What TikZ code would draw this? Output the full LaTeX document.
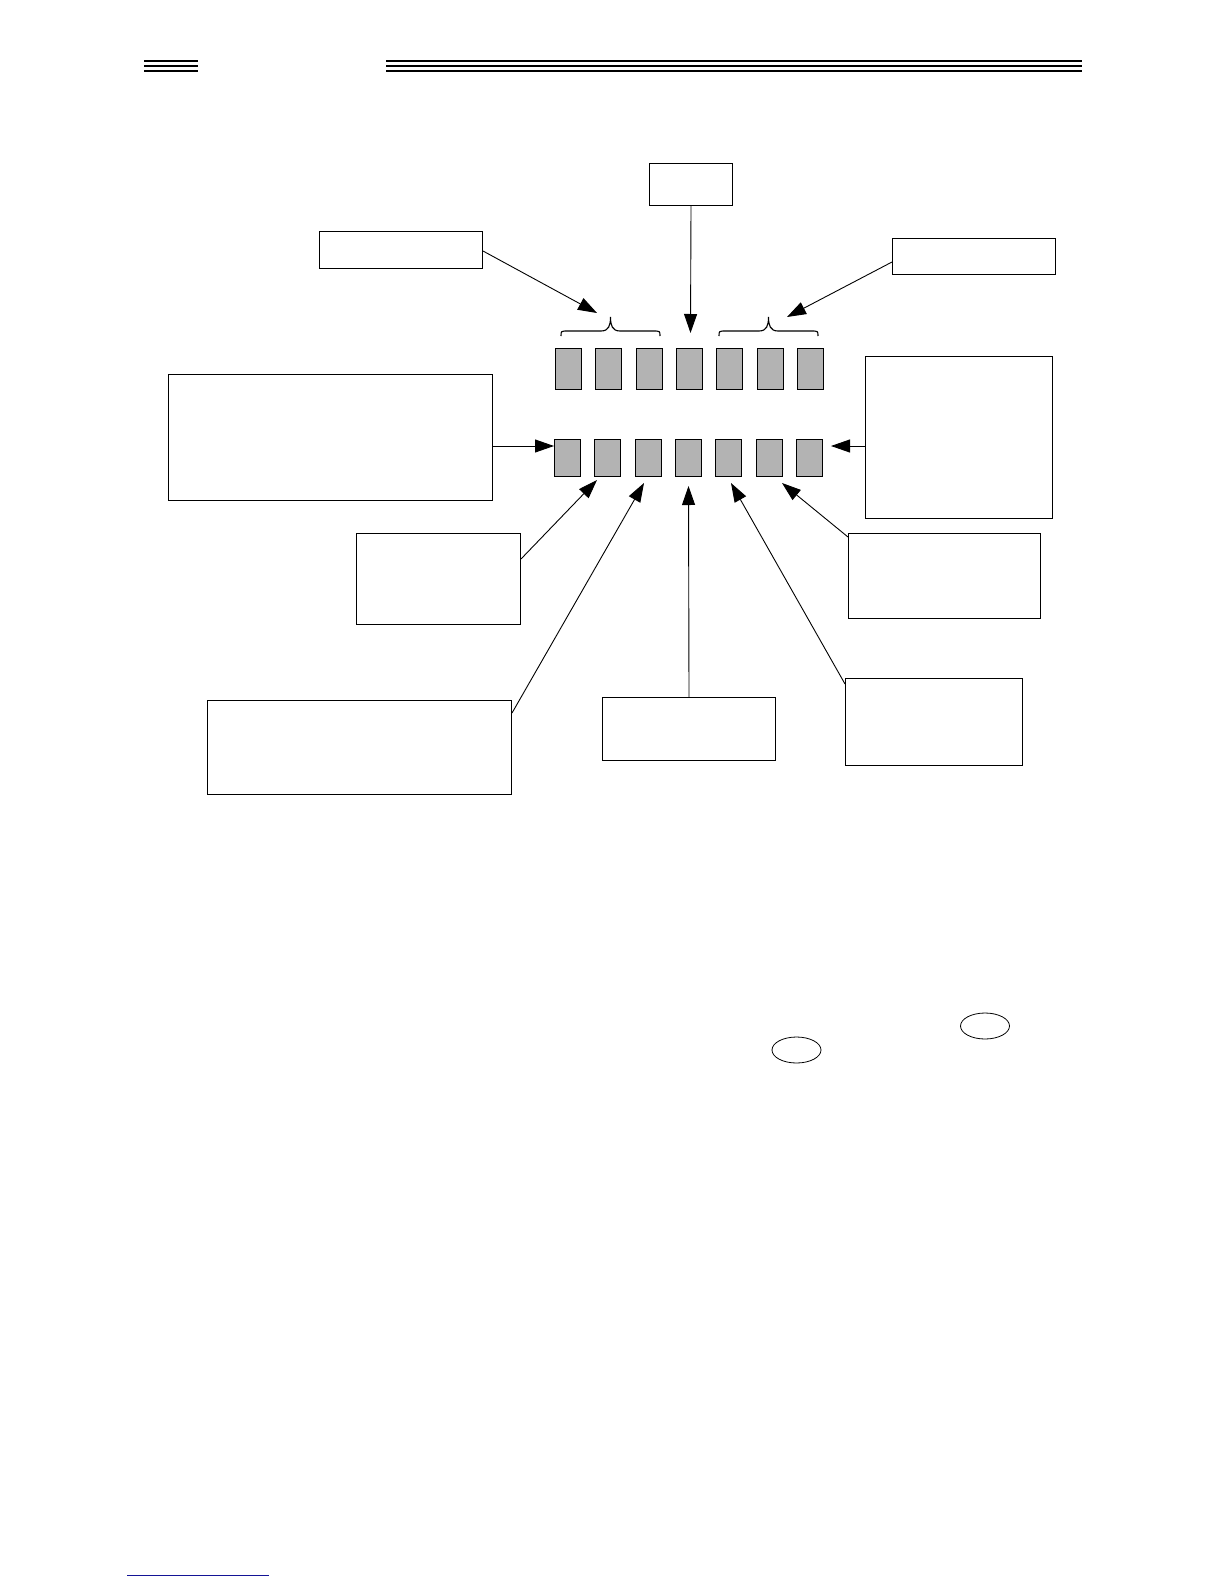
\documentclass[tikz,border=0pt]{standalone}
\usetikzlibrary{arrows.meta,calc,shapes.geometric}
\definecolor{cellgray}{RGB}{179,179,179}
\definecolor{footblue}{RGB}{20,20,150}
\begin{document}
\begin{tikzpicture}[x=1pt,y=-1pt,
  box/.style={draw,line width=1pt,rectangle,inner sep=0pt,anchor=north west},
  cell/.style={draw,fill=cellgray,line width=1pt,rectangle,inner sep=0pt,minimum width=26pt,anchor=north west},
  arr/.style={line width=0.9pt,-{Triangle[length=19pt,width=13pt]}},
  hrule/.style={line width=1.3pt},
  oval/.style={draw,ellipse,inner sep=0pt,line width=0.8pt,minimum width=49pt,minimum height=26pt},
  curly/.pic={\draw[line width=1.1pt] (-49.5,0) .. controls (-49.5,-5) .. (-42.5,-5) -- (-9.5,-5) .. controls (-1.5,-5) and (0,-11) .. (0,-19) .. controls (0,-11) and (1.5,-5) .. (9.5,-5) -- (42.5,-5) .. controls (49.5,-5) .. (49.5,0);}
]
\useasboundingbox (0,0) rectangle (1224,1584);
\fill[white] (0,0) rectangle (1224,1584);

% header rules
\foreach \yy in {61,66,71}{
  \draw[hrule] (144,\yy) -- (198,\yy);
  \draw[hrule] (386,\yy) -- (1082,\yy);
}

% boxes
\node[box,minimum width=83pt,minimum height=42pt] (T) at (649,163) {};
\node[box,minimum width=163pt,minimum height=37pt] (A) at (319,231) {};
\node[box,minimum width=163pt,minimum height=36pt] (B) at (892,238) {};
\node[box,minimum width=324pt,minimum height=126pt] (L) at (168,374) {};
\node[box,minimum width=187pt,minimum height=162pt] (R) at (865,356) {};
\node[box,minimum width=164pt,minimum height=91pt] (C) at (356,533) {};
\node[box,minimum width=304pt,minimum height=94pt] (D) at (207,700) {};
\node[box,minimum width=173pt,minimum height=63pt] (E) at (602,697) {};
\node[box,minimum width=192pt,minimum height=85pt] (F) at (848,533) {};
\node[box,minimum width=177pt,minimum height=87pt] (G) at (845,678) {};

% cells
\foreach \i in {1,...,7}{
  \node[cell,minimum height=41pt] (t\i) at ({555+40.33*(\i-1)},348) {};
  \node[cell,minimum height=37pt] (b\i) at ({554+40.33*(\i-1)},439) {};
}

% braces
\pic at (610.5,336) {curly};
\pic at (768.5,336) {curly};

% arrow tips
\coordinate (tT) at (690.5,333);
\coordinate (tA) at (597,313);
\coordinate (tB) at (787,317);
\coordinate (tL) at (554,446);
\coordinate (tR) at (831,446);
\coordinate (tC) at (597,480);
\coordinate (tD) at (644,483);
\coordinate (tE) at (688.5,486);
\coordinate (tF) at (782,483);
\coordinate (tG) at (731,483);

\draw[arr] (T.south) -- (tT);
\draw[arr] ($(A.north east)+(0,20)$) -- (tA);
\draw[arr] ($(B.north west)+(0,24)$) -- (tB);
\draw[arr] ($(L.north east)+(0,72)$) -- (tL);
\draw[arr] ($(R.north west)+(0,90)$) -- (tR);
\draw[arr] ($(C.north east)+(0,26)$) -- (tC);
\draw[arr] ($(D.north east)+(0,13)$) -- (tD);
\draw[arr] (E.north) -- (tE);
\draw[arr] ($(F.north west)+(0,4)$) -- (tF);
\draw[arr] ($(G.north west)+(0,6)$) -- (tG);

% ovals
\node[oval] (o1) at (796.5,1050) {};
\node[oval] (o2) at (985,1026) {};

% footer rule
\draw[footblue,line width=1pt] (127,1575) -- (269,1575);
\end{tikzpicture}
\end{document}
